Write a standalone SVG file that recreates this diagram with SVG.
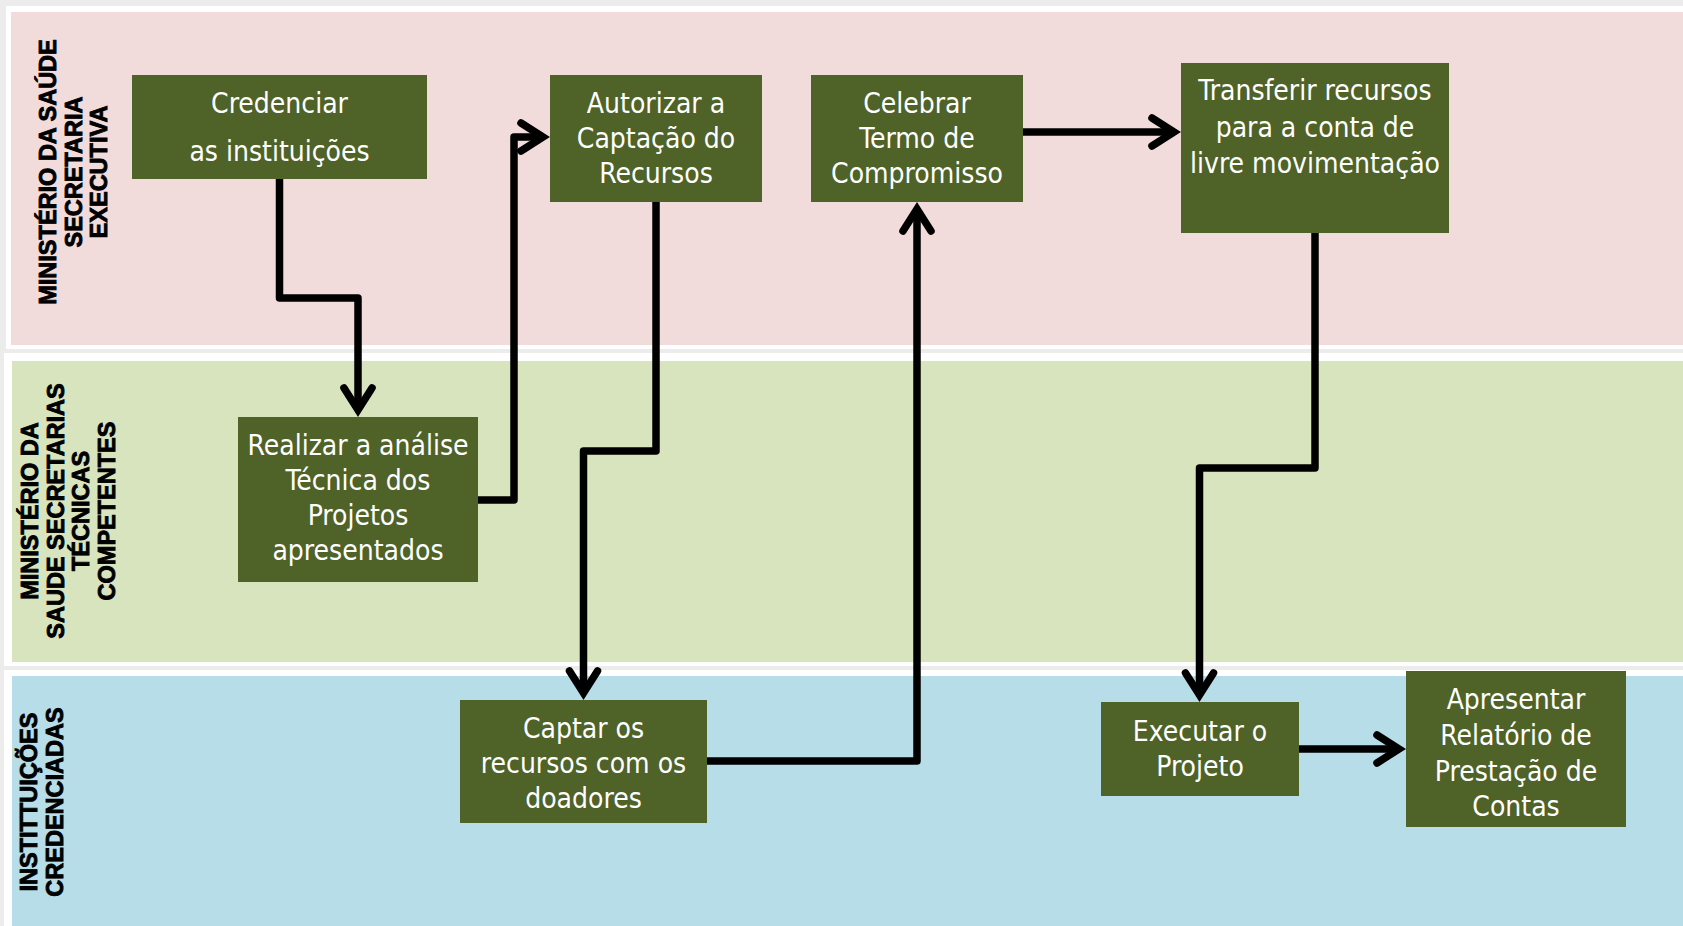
<svg xmlns="http://www.w3.org/2000/svg" width="1683" height="926" viewBox="0 0 1683 926">
<style>
.panel{fill:#ffffff}
.box{fill:#4f6228}
.nt{font-family:"DejaVu Sans Condensed","DejaVu Sans",sans-serif;font-stretch:condensed;font-size:28px;fill:#ffffff;text-anchor:middle}
.lt{font-family:"Liberation Sans",Arial,sans-serif;font-weight:700;font-size:23.5px;fill:#000000;stroke:#000000;stroke-width:0.9;text-anchor:middle}
.con{fill:none;stroke:#000000;stroke-width:7.5;stroke-linejoin:round;stroke-linecap:butt}
</style>
<defs>
<marker id="arr" markerUnits="userSpaceOnUse" viewBox="-35 -22 45 44" markerWidth="45" markerHeight="44" refX="0" refY="0" orient="auto" overflow="visible">
<path d="M-22,-14 L0,0 L-22,14" fill="none" stroke="#000000" stroke-width="7.5" stroke-linejoin="miter" stroke-miterlimit="10" stroke-linecap="round"/>
</marker>
</defs>
<rect x="0" y="0" width="1683" height="926" fill="#ececec"/>
<g id="lanes">
<rect class="panel" x="6" y="6" width="1677" height="343"/>
<rect x="11" y="12" width="1672" height="333" fill="#f2dcdb"/>
<rect class="panel" x="4" y="353" width="1679" height="313"/>
<rect x="12" y="361" width="1671" height="301" fill="#d8e4bd"/>
<rect class="panel" x="4" y="670" width="1679" height="256"/>
<rect x="12" y="676" width="1671" height="250" fill="#b7dde8"/>
</g>
<g id="lane-labels">
<text class="lt" transform="translate(0,172) rotate(-90)"><tspan x="0" y="56">MINISTÉRIO DA SAÚDE</tspan><tspan x="0" y="82">SECRETARIA</tspan><tspan x="0" y="107">EXECUTIVA</tspan></text>
<text class="lt" transform="translate(0,511) rotate(-90)"><tspan x="0" y="38">MINISTÉRIO DA</tspan><tspan x="0" y="63.5">SAUDE SECRETARIAS</tspan><tspan x="0" y="89">TÉCNICAS</tspan><tspan x="0" y="115">COMPETENTES</tspan></text>
<text class="lt" transform="translate(0,802) rotate(-90)"><tspan x="0" y="37">INSTITTUIÇÕES</tspan><tspan x="0" y="63">CREDENCIADAS</tspan></text>
</g>
<g id="connectors">
<path class="con" d="M279.5,179 V298 H358 V410" marker-end="url(#arr)"/>
<path class="con" d="M478,500 H514 V137 H543" marker-end="url(#arr)"/>
<path class="con" d="M656,202 V451 H583.5 V693" marker-end="url(#arr)"/>
<path class="con" d="M707,761 H917 V209" marker-end="url(#arr)"/>
<path class="con" d="M1023,132 H1174" marker-end="url(#arr)"/>
<path class="con" d="M1315,233 V468 H1199.5 V695" marker-end="url(#arr)"/>
<path class="con" d="M1299,749 H1399" marker-end="url(#arr)"/>
</g>
<g id="n-credenciar">
<rect class="box" x="132" y="75" width="295" height="104"/>
<text class="nt"><tspan x="279.5" y="113">Credenciar</tspan><tspan x="279.5" y="161">as instituições</tspan></text>
</g>
<g id="n-autorizar">
<rect class="box" x="550" y="75" width="212" height="127"/>
<text class="nt"><tspan x="656" y="113">Autorizar a</tspan><tspan x="656" y="148">Captação do</tspan><tspan x="656" y="183">Recursos</tspan></text>
</g>
<g id="n-celebrar">
<rect class="box" x="811" y="75" width="212" height="127"/>
<text class="nt"><tspan x="917" y="113">Celebrar</tspan><tspan x="917" y="148">Termo de</tspan><tspan x="917" y="183">Compromisso</tspan></text>
</g>
<g id="n-transferir">
<rect class="box" x="1181" y="63" width="268" height="170"/>
<text class="nt"><tspan x="1315" y="100">Transferir recursos</tspan><tspan x="1315" y="136.5">para a conta de</tspan><tspan x="1315" y="172.5">livre movimentação</tspan></text>
</g>
<g id="n-realizar">
<rect class="box" x="238" y="417" width="240" height="165"/>
<text class="nt"><tspan x="358" y="455">Realizar a análise</tspan><tspan x="358" y="490">Técnica dos</tspan><tspan x="358" y="525">Projetos</tspan><tspan x="358" y="560">apresentados</tspan></text>
</g>
<g id="n-captar">
<rect class="box" x="460" y="700" width="247" height="123"/>
<text class="nt"><tspan x="583.5" y="738">Captar os</tspan><tspan x="583.5" y="773">recursos com os</tspan><tspan x="583.5" y="808">doadores</tspan></text>
</g>
<g id="n-executar">
<rect class="box" x="1101" y="702" width="198" height="94"/>
<text class="nt"><tspan x="1200" y="741">Executar o</tspan><tspan x="1200" y="776">Projeto</tspan></text>
</g>
<g id="n-apresentar">
<rect class="box" x="1406" y="671" width="220" height="156"/>
<text class="nt"><tspan x="1516" y="709">Apresentar</tspan><tspan x="1516" y="745">Relatório de</tspan><tspan x="1516" y="781">Prestação de</tspan><tspan x="1516" y="816">Contas</tspan></text>
</g>
</svg>
